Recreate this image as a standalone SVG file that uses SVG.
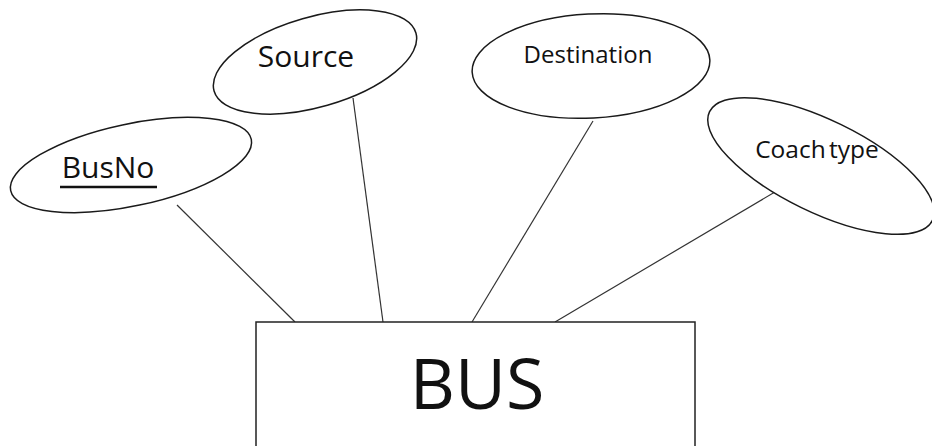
<svg xmlns="http://www.w3.org/2000/svg" width="932" height="446" viewBox="0 0 932 446">
  <style>
    .attr { fill: #ffffff; stroke: #1a1a1a; stroke-width: 1.5; }
    .entity { fill: #ffffff; stroke: #222222; stroke-width: 1.5; }
    .link { stroke: #333333; stroke-width: 1.2; fill: none; }
    .label { font-family: "Open Sans", "Liberation Sans", sans-serif; fill: #111111; text-anchor: middle; }
  </style>
  <rect width="932" height="446" fill="#ffffff"/>

  <!-- connectors from attributes to the entity -->
  <g id="connectors">
    <line class="link" x1="177" y1="205" x2="295" y2="322"/>
    <line class="link" x1="353" y1="98" x2="383" y2="322"/>
    <line class="link" x1="593" y1="121" x2="472" y2="322"/>
    <line class="link" x1="780" y1="189" x2="555" y2="322"/>
  </g>

  <!-- entity -->
  <g id="bus">
    <rect class="entity" x="256" y="322" width="439" height="140"/>
    <text class="label" x="477" y="409" font-size="70">BUS</text>
  </g>

  <!-- key attribute -->
  <g id="busno">
    <ellipse class="attr" cx="131" cy="165" rx="123" ry="41" transform="rotate(-12 131 165)"/>
    <text class="label" x="108" y="178" font-size="30">BusNo</text>
    <line x1="60" y1="187" x2="157" y2="187" stroke="#111111" stroke-width="2.5"/>
  </g>

  <g id="source">
    <ellipse class="attr" cx="315" cy="62" rx="105" ry="45" transform="rotate(-16 315 62)"/>
    <text class="label" x="306" y="67" font-size="30">Source</text>
  </g>

  <g id="destination">
    <ellipse class="attr" cx="591" cy="66" rx="119" ry="52" transform="rotate(-3 591 66)"/>
    <text class="label" x="588" y="63" font-size="24">Destination</text>
  </g>

  <g id="coach-type">
    <ellipse class="attr" cx="821" cy="166" rx="124" ry="46" transform="rotate(26 821 166)"/>
    <text class="label" x="817" y="158" font-size="24.5" word-spacing="-3">Coach type</text>
  </g>
</svg>
